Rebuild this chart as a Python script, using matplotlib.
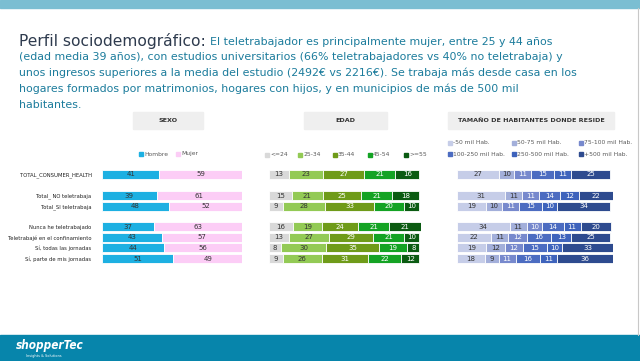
import numpy as np
import matplotlib.pyplot as plt
from matplotlib.patches import Rectangle

# datos
filas = ["TOTAL_CONSUMER_HEALTH", "Total_ NO teletrabaja", "Total_SI teletrabaja",
         "Nunca he teletrabajado", "Teletrabajé en el confinamiento",
         "Sí, todas las jornadas", "Sí, parte de mis jornadas"]
pos_filas = [0, 2.05, 3.05, 5.05, 6.05, 7.05, 8.1]

sexo_cat = ["Hombre", "Mujer"]
hombre = [41, 39, 48, 37, 43, 44, 51]
mujer = [59, 61, 52, 63, 57, 56, 49]

edad_cat = ["<=24", "25-34", "35-44", "45-54", ">=55"]
edad_24 = [13, 15, 9, 16, 13, 8, 9]
edad_34 = [23, 21, 28, 19, 27, 30, 26]
edad_44 = [27, 25, 33, 24, 29, 35, 31]
edad_54 = [21, 21, 20, 21, 21, 19, 22]
edad_55 = [16, 18, 10, 21, 10, 8, 12]

hab_cat = ["-50 mil Hab.", "50-75 mil Hab.", "75-100 mil Hab.",
           "100-250 mil Hab.", "250-500 mil Hab.", "+500 mil Hab."]
hab_50 = [27, 31, 19, 34, 22, 19, 18]
hab_75 = [10, 11, 10, 11, 11, 12, 9]
hab_100 = [11, 11, 11, 10, 12, 12, 11]
hab_250 = [15, 14, 15, 14, 16, 15, 16]
hab_500 = [11, 12, 10, 11, 13, 10, 11]
hab_mas = [25, 22, 34, 20, 25, 33, 36]

col_sexo = ["#1DB0E2", "#FCCDF6"]
col_edad = ["#D9D9D9", "#93CA55", "#6F9B19", "#14A324", "#0B5B12"]
col_hab = ["#C6CDE8", "#A3AFDA", "#7789CD", "#4C6CC1", "#3E63BC", "#2E4B8F"]
txt_oscuro = "#333333"

W, H = 640, 361
fig = plt.figure(figsize=(W / 100, H / 100), dpi=100)
fig.patch.set_facecolor("white")

# capa de fondo en pixeles
fondo = fig.add_axes([0, 0, 1, 1])
fondo.set_xlim(0, W)
fondo.set_ylim(H, 0)
fondo.axis("off")
fondo.add_patch(Rectangle((0, 0), W, 8, color="#7BBED2"))
fondo.add_patch(Rectangle((0, 335), W, 26, color="#0785AB"))
fondo.plot([638, 638], [8, 335], color="#C8C8C8", lw=0.8)
fondo.text(16, 346, "shopperTec", color="white", fontsize=8.5, fontweight="bold",
           style="italic", fontstretch="condensed", va="center", ha="left")
fondo.text(44, 355.5, "Insights & Solutions", color="white", fontsize=2.5,
           va="center", ha="center")

# titulo
fondo.text(19, 41, "Perfil sociodemográfico:", color="#2E3B4E", fontsize=11.2,
           va="center", ha="left")
c_txt = "#1C7C9C"
fondo.text(210, 42, "El teletrabajador es principalmente mujer, entre 25 y 44 años",
           color=c_txt, fontsize=7.9, va="center", ha="left")
lineas = ["(edad media 39 años), con estudios universitarios (66% teletrabajadores vs 40% no teletrabaja) y",
          "unos ingresos superiores a la media del estudio (2492€ vs 2216€). Se trabaja más desde casa en los",
          "hogares formados por matrimonios, hogares con hijos, y en municipios de más de 500 mil",
          "habitantes."]
for i, l in enumerate(lineas):
    fondo.text(19, 57.5 + 15.7 * i, l, color=c_txt, fontsize=7.9, va="center", ha="left")

# cajas de cabecera
for x0, x1, t in [(133, 203, "SEXO"), (304, 387, "EDAD"),
                  (448, 614, "TAMAÑO DE HABITANTES DONDE RESIDE")]:
    fondo.add_patch(Rectangle((x0, 112), x1 - x0, 17, color="#EFEFEF"))
    fondo.text((x0 + x1) / 2, 120.5, t, fontsize=4.6, fontweight="bold",
               color="#333333", ha="center", va="center")


def leyenda(items, colores, xs, ys):
    for t, c, x, y in zip(items, colores, xs, ys):
        fondo.add_patch(Rectangle((x, y - 2), 4, 4, color=c))
        fondo.text(x + 5, y, t, fontsize=4.3, color="#595959", ha="left", va="center")


leyenda(sexo_cat, col_sexo, [139, 176], [154, 154])
leyenda(edad_cat, col_edad, [265, 298, 333, 368, 404], [155] * 5)
leyenda(hab_cat, col_hab, [448, 512, 579, 448, 512, 579], [143] * 3 + [154] * 3)

# paneles de barras
y_top, y_bot = 174 - 5.25, 258 + 5.25 + 1


def panel(x0, x1, series, colores, claros):
    ax = fig.add_axes([x0 / W, 1 - y_bot / H, (x1 - x0) / W, (y_bot - y_top) / H])
    izq = np.zeros(len(filas))
    for k, (s, c) in enumerate(zip(series, colores)):
        s = np.array(s, dtype=float)
        bars = ax.barh(pos_filas, s, left=izq, height=0.88, color=c,
                       edgecolor="white", linewidth=0.6)
        ax.bar_label(bars, labels=[str(int(v)) for v in s], label_type="center",
                     fontsize=5, color=txt_oscuro if k in claros else "white")
        izq += s
    ax.set_xlim(0, izq.max())
    ax.set_ylim(8.1 + 0.55, -0.55)
    for sp in ax.spines.values():
        sp.set_visible(False)
    ax.set_xticks([])
    ax.tick_params(axis="y", length=0)
    return ax


ax1 = panel(102, 242, [hombre, mujer], col_sexo, [0, 1])
ax1.set_yticks(pos_filas)
ax1.set_yticklabels(filas, fontsize=4.2, color="#222222", fontstretch="condensed")
ax1.tick_params(axis="y", pad=7.5)

ax2 = panel(269, 421, [edad_24, edad_34, edad_44, edad_54, edad_55], col_edad, [0, 1])
ax2.set_yticks([])
ax3 = panel(457, 613, [hab_50, hab_75, hab_100, hab_250, hab_500, hab_mas], col_hab, [0, 1])
ax3.set_yticks([])

fig.savefig("out.png", dpi=100)
